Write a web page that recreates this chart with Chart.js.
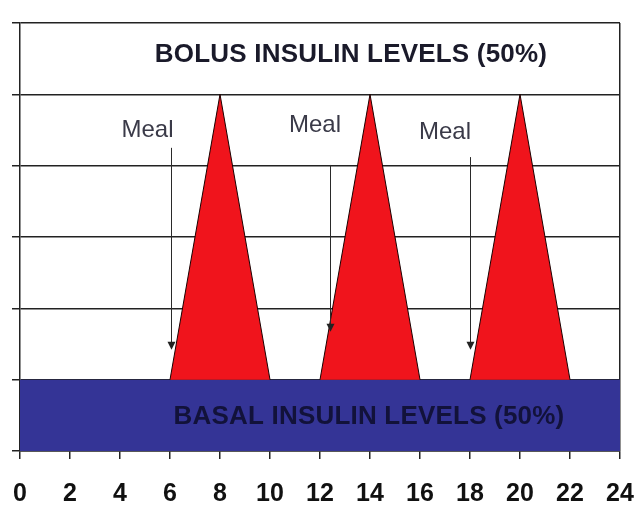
<!DOCTYPE html>
<html>
<head>
<meta charset="utf-8">
<script src="https://cdn.jsdelivr.net/npm/chart.js@4"></script>
<style>
  html, body { margin: 0; padding: 0; background: #fff; }
  #wrap { width: 640px; height: 508px; }
</style>
</head>
<body>
<div id="wrap"><canvas id="insulinChart"></canvas></div>
<script>
// hours of the day on the x axis
const hourTicks = [0, 2, 4, 6, 8, 10, 12, 14, 16, 18, 20, 22, 24];

// basal band
const basalHours = [0, 24];
const basalLevels = [1, 1];

// bolus peaks (null breaks the line between meals)
const bolusHours = [6, 8, 10, 11, 12, 14, 16, 17, 18, 20, 22];
const bolusLevels = [1, 5, 1, null, 1, 5, 1, null, 1, 5, 1];

// meal arrows and labels
const mealHours = [6.03, 12.4, 18.0];
const mealArrowTop = [4.25, 4.01, 4.12];
const mealArrowTip = [1.42, 1.67, 1.42];
const mealLabelHours = [5.1, 11.8, 17.0];
const mealLabelLevels = [4.5, 4.57, 4.47];
const mealLabel = "Meal";

// band captions
const bolusCaption = "BOLUS INSULIN LEVELS (50%)";
const bolusCaptionAt = [13.24, 5.55];
const basalCaption = "BASAL INSULIN LEVELS (50%)";
const basalCaptionAt = [13.96, 0.48];

const toPoints = (xs, ys) => xs.map((x, i) => ({ x: x, y: ys[i] }));

const annotations = {
    id: 'annotations',
    afterDatasetsDraw(chart) {
        const ctx = chart.ctx;
        const xs = chart.scales.x;
        const ys = chart.scales.y;
        ctx.save();

        // meal arrows
        ctx.strokeStyle = '#2a2a2a';
        ctx.fillStyle = '#222';
        ctx.lineWidth = 1;
        mealHours.forEach((h, i) => {
            const px = Math.round(xs.getPixelForValue(h)) + 0.5;
            const top = ys.getPixelForValue(mealArrowTop[i]);
            const tip = ys.getPixelForValue(mealArrowTip[i]);
            ctx.beginPath();
            ctx.moveTo(px, top);
            ctx.lineTo(px, tip - 6);
            ctx.stroke();
            ctx.beginPath();
            ctx.moveTo(px - 4, tip - 8);
            ctx.lineTo(px + 4, tip - 8);
            ctx.lineTo(px, tip);
            ctx.closePath();
            ctx.fill();
        });

        // meal labels
        ctx.font = '24px "Liberation Sans", Arial, sans-serif';
        ctx.fillStyle = '#3a3a48';
        ctx.textAlign = 'center';
        ctx.textBaseline = 'middle';
        mealLabelHours.forEach((h, i) => {
            ctx.fillText(mealLabel, xs.getPixelForValue(h), ys.getPixelForValue(mealLabelLevels[i]));
        });

        // captions
        ctx.font = 'bold 26px "Liberation Sans", Arial, sans-serif';
        ctx.letterSpacing = '0.2px';
        ctx.fillStyle = '#1a1a2a';
        ctx.fillText(bolusCaption, xs.getPixelForValue(bolusCaptionAt[0]), ys.getPixelForValue(bolusCaptionAt[1]));
        ctx.fillStyle = '#12123a';
        ctx.fillText(basalCaption, xs.getPixelForValue(basalCaptionAt[0]), ys.getPixelForValue(basalCaptionAt[1]));

        ctx.restore();
    }
};

new Chart(document.getElementById('insulinChart'), {
    type: 'line',
    data: {
        datasets: [
            {
                label: 'Bolus',
                data: toPoints(bolusHours, bolusLevels),
                borderColor: '#1a0000',
                borderWidth: 1,
                backgroundColor: '#f0141c',
                fill: { value: 1 },
                pointRadius: 0,
                spanGaps: false,
                tension: 0,
            },
            {
                label: 'Basal',
                data: toPoints(basalHours, basalLevels),
                borderWidth: 0,
                borderColor: 'transparent',
                backgroundColor: '#343496',
                fill: 'origin',
                pointRadius: 0,
                tension: 0,
            },
        ],
    },
    options: {
        responsive: true,
        maintainAspectRatio: false,
        animation: false,
        layout: { padding: { left: 12, right: 20, top: 23, bottom: 0 } },
        plugins: {
            legend: { display: false },
            tooltip: { enabled: false },
        },
        scales: {
            x: {
                type: 'linear',
                min: 0,
                max: 24,
                afterBuildTicks: (axis) => { axis.ticks = hourTicks.map(v => ({ value: v })); },
                afterFit: (axis) => {
                    axis.height = 57;
                    axis.paddingLeft = 0;
                    axis.paddingRight = 0;
                },
                ticks: {
                    padding: 20,
                    color: '#111',
                    font: { family: '"Liberation Sans", Arial, sans-serif', size: 25, weight: 'bold' },
                    maxRotation: 0,
                },
                grid: {
                    drawOnChartArea: true,
                    color: (c) => (c.tick && c.tick.value === 24 ? '#222' : 'transparent'),
                    tickColor: '#222',
                    tickLength: 8,
                    lineWidth: 1.5,
                },
                border: { display: true, color: '#222', width: 1.5 },
            },
            y: {
                min: 0,
                max: 6,
                ticks: { stepSize: 1, display: false },
                afterFit: (axis) => { axis.width = 8; },
                grid: { color: '#222', tickColor: '#222', tickLength: 8, lineWidth: 1.5 },
                border: { display: true, color: '#222', width: 1.5 },
            },
        },
    },
    plugins: [annotations],
});
</script>
</body>
</html>
